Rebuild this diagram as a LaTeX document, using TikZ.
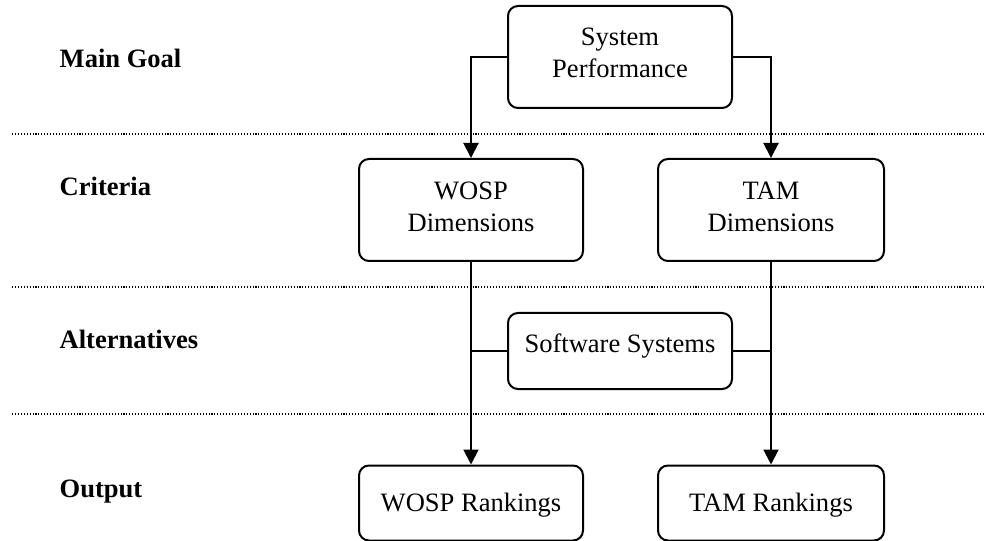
\documentclass[tikz,border=0pt]{standalone}
\usepackage{fontspec}
\setmainfont{Liberation Serif}
\usetikzlibrary{arrows.meta}
\begin{document}
\begin{tikzpicture}[x=0.75pt,y=-0.75pt,
  every node/.style={font=\fontsize{19.9}{24}\selectfont},
  box/.style={draw, line width=1.5pt, rounded corners=7.5pt, inner sep=0pt},
  txt/.style={align=center, inner sep=0pt},
  level/.style={anchor=west, font=\fontsize{19.9}{24}\selectfont\bfseries},
  sep/.style={line width=0.8pt, dash pattern=on 0.8pt off 1.4pt},
  link/.style={line width=1.5pt},
  arr/.style={link, -{Triangle[width=11.25pt,length=11.25pt]}}]
\useasboundingbox (0,0) rectangle (995,541);

% level separators
\draw[sep] (12,134) -- (985,134);
\draw[sep] (12,287) -- (985,287);
\draw[sep] (12,414) -- (985,414);

% level labels
\node[level] (lgoal) at (55,58) {Main Goal};
\node[level] (lcrit) at (55,186) {Criteria};
\node[level] (lalt)  at (55,339) {Alternatives};
\node[level] (lout)  at (55,492) {Output};

% boxes
\node[box, minimum width=168pt, minimum height=76.5pt] (sp) at (620,57) {};
\node[box, minimum width=168pt, minimum height=76.5pt] (wd) at (471,210) {};
\node[box, minimum width=169.5pt, minimum height=76.5pt] (td) at (771,210) {};
\node[box, minimum width=168pt, minimum height=57pt] (sw) at (620,351) {};
\node[box, minimum width=168pt, minimum height=56.25pt] (wr) at (471,503) {};
\node[box, minimum width=169.5pt, minimum height=56.25pt] (tr) at (771,503) {};

% box texts
\node[txt] (sp-t) at ([yshift=3pt]sp.center) {System\\Performance};
\node[txt] (wd-t) at ([yshift=2.25pt]wd.center) {WOSP\\Dimensions};
\node[txt] (td-t) at ([yshift=2.25pt]td.center) {TAM\\Dimensions};
\node[txt] (sw-t) at ([yshift=4pt]sw.center) {Software Systems};
\node[txt] (wr-t) at ([yshift=-1.5pt]wr.center) {WOSP Rankings};
\node[txt] (tr-t) at ([yshift=-1.5pt]tr.center) {TAM Rankings};

% connectors
\draw[arr] (sp.west) -| (wd.north);
\draw[arr] (sp.east) -| (td.north);
\draw[arr] (wd.south) -- (wr.north);
\draw[arr] (td.south) -- (tr.north);
\draw[link] (sw.west) -- (sw.west -| wd.south);
\draw[link] (sw.east) -- (sw.east -| td.south);
\end{tikzpicture}
\end{document}
